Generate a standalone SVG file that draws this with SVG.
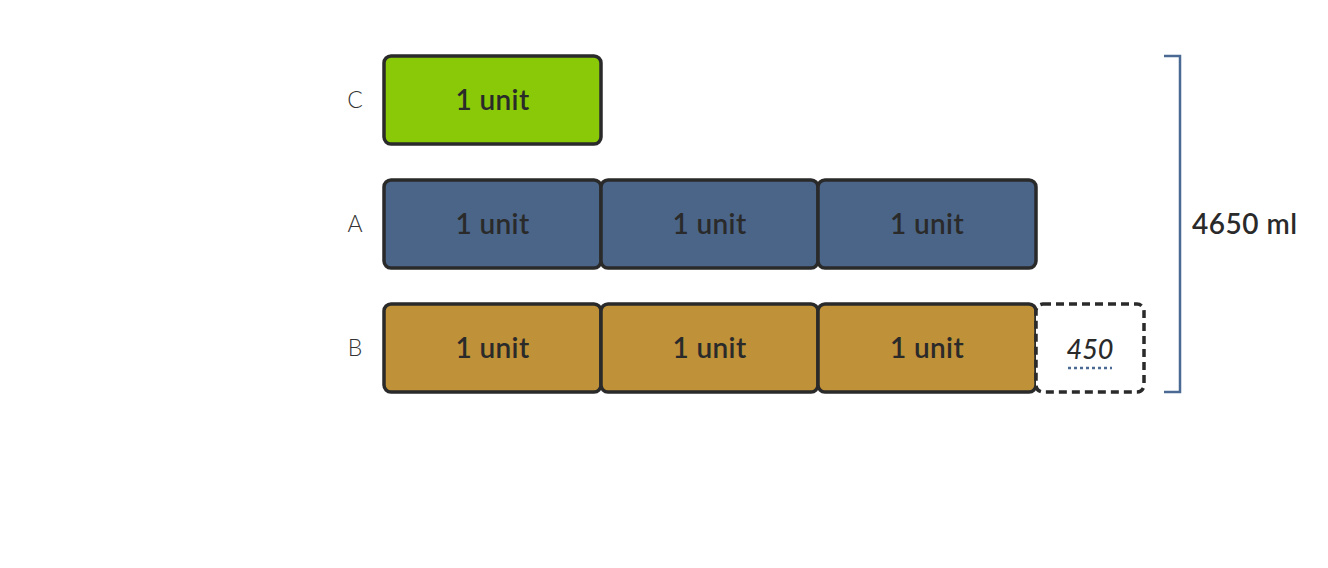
<svg xmlns="http://www.w3.org/2000/svg" width="1328" height="568" viewBox="0 0 1328 568">
<style>
.box{stroke:#2a2a2a;stroke-width:3.5}
.c{fill:#89c908}
.a{fill:#4a6588}
.b{fill:#bf9138}
.u{font-family:Lato,"Open Sans",sans-serif;font-size:28px;font-weight:600;fill:#2a2a2a;text-anchor:middle;letter-spacing:0.4px}
.lbl{font-family:Lato,"Open Sans",sans-serif;font-size:23px;font-weight:300;fill:#333;text-anchor:middle}
</style>
<rect width="1328" height="568" fill="#fff"/>
<g id="label-C"><text class="lbl" x="355" y="108">C</text></g>
<g id="label-A"><text class="lbl" x="355" y="232">A</text></g>
<g id="label-B"><text class="lbl" x="355" y="356">B</text></g>
<g id="C1"><rect class="box c" x="384" y="56" width="217" height="88" rx="7"/><text class="u" x="492.5" y="110">1 unit</text></g>
<g id="A1"><rect class="box a" x="384" y="180" width="217" height="88" rx="7"/><text class="u" x="492.5" y="234">1 unit</text></g>
<g id="A2"><rect class="box a" x="601" y="180" width="217" height="88" rx="7"/><text class="u" x="709.5" y="234">1 unit</text></g>
<g id="A3"><rect class="box a" x="818" y="180" width="218" height="88" rx="7"/><text class="u" x="927" y="234">1 unit</text></g>
<g id="B1"><rect class="box b" x="384" y="304" width="217" height="88" rx="7"/><text class="u" x="492.5" y="358">1 unit</text></g>
<g id="B2"><rect class="box b" x="601" y="304" width="217" height="88" rx="7"/><text class="u" x="709.5" y="358">1 unit</text></g>
<g id="B3"><rect class="box b" x="818" y="304" width="218" height="88" rx="7"/><text class="u" x="927" y="358">1 unit</text></g>
<g id="B-extra">
<rect x="1036" y="304" width="108" height="88" rx="7" fill="#fff" stroke="#2a2a2a" stroke-width="3.5" stroke-dasharray="8,5"/>
<text x="1090" y="359" font-family="Lato,'Open Sans',sans-serif" font-size="27" font-weight="500" font-style="italic" fill="#2a2a2a" text-anchor="middle">450</text>
<line x1="1068" y1="368" x2="1112" y2="368" stroke="#4a6a94" stroke-width="2.5" stroke-dasharray="3,3"/>
</g>
<g id="connectors">
<path d="M1164 56 H1180 V392 H1164" fill="none" stroke="#4a6a94" stroke-width="2.5"/>
</g>
<g id="total"><text x="1192" y="234" font-family="Lato,'Open Sans',sans-serif" font-size="28" font-weight="600" fill="#2a2a2a" letter-spacing="0.5">4650 ml</text></g>
</svg>
